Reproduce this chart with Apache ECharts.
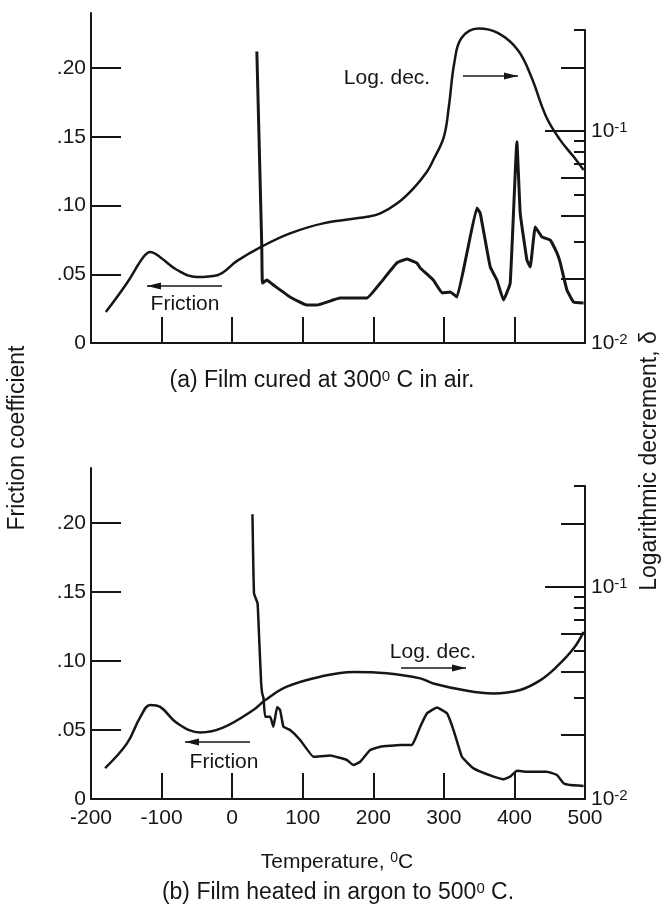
<!DOCTYPE html>
<html>
<head>
<meta charset="utf-8">
<script src="https://cdn.jsdelivr.net/npm/echarts@6/dist/echarts.min.js"></script>
<style>
  html, body { margin: 0; padding: 0; background: #fff; }
  #chart { width: 662px; height: 905px; }
</style>
</head>
<body>
<div id="chart"></div>
<script>
(function () {

	// tick values
	var tempTicks = [-200, -100, 0, 100, 200, 300, 400, 500];
	var frictionTicks = [0, 0.05, 0.10, 0.15, 0.20];
	var logMajorTicks = [0.01, 0.1];
	var logLongTicks = [0.02, 0.04, 0.06, 0.2];
	var logShortTicks = [0.03, 0.05, 0.07, 0.08, 0.09, 0.3];

	// (a) film cured at 300 C in air : [temperature, value]
	var logDecA = [
		[-179, 0.0140], [-149, 0.0192], [-126, 0.0254], [-116, 0.0269], [-102, 0.0254],
		[-78, 0.0221], [-50, 0.0205], [-21, 0.0209], [7, 0.0244], [41, 0.0284],
		[82, 0.0329], [129, 0.0367], [191, 0.0394], [210, 0.0409], [234, 0.0456],
		[257, 0.0537], [276, 0.0643], [285, 0.0730], [300, 0.0940], [307, 0.130],
		[315, 0.212], [325, 0.275], [349, 0.305], [377, 0.290], [405, 0.241],
		[424, 0.180], [445, 0.117], [465, 0.0907], [484, 0.0756], [498, 0.0655]
	];
	var frictionA = [
		[35, 0.212], [42, 0.070], [43, 0.0436], [49, 0.0458], [58.5, 0.0422],
		[82, 0.0335], [106, 0.0276], [120, 0.0276], [153, 0.0327], [191, 0.0327],
		[210, 0.0436], [233.5, 0.0582], [247.6, 0.0611], [261.8, 0.0582], [266.5, 0.0546],
		[285, 0.0458], [297.7, 0.0364], [309, 0.0371], [318.5, 0.0335], [332.7, 0.0655],
		[346.8, 0.0982], [351.5, 0.0945], [365.7, 0.0553], [375.2, 0.0458], [384.5, 0.0313],
		[394, 0.0436], [403.5, 0.1464], [408.2, 0.0945], [417.7, 0.0604], [422.4, 0.0553],
		[429.5, 0.0844], [439, 0.0771], [450.7, 0.0749], [460.2, 0.0655], [465, 0.0582],
		[474.4, 0.0385], [483.8, 0.0298], [498, 0.0291]
	];

	// (b) film heated in argon to 500 C
	var logDecB = [
		[-180, 0.0140], [-149, 0.0183], [-130, 0.0244], [-116, 0.0278], [-102, 0.0272],
		[-78, 0.0228], [-45, 0.0206], [-13, 0.0217], [30, 0.0263], [47, 0.0293],
		[77.5, 0.0339], [125, 0.0378], [172, 0.0398], [219, 0.0392], [266.5, 0.0371],
		[285, 0.0351], [333, 0.0324], [370, 0.0315], [408, 0.0327], [437, 0.0364],
		[460, 0.0421], [484, 0.0514], [498, 0.0615]
	];
	var frictionB = [
		[28.8, 0.2065], [31, 0.149], [36, 0.142], [38, 0.120], [41, 0.085],
		[42.5, 0.0768], [44.4, 0.0732], [46.8, 0.0596], [53.9, 0.0596], [58.5, 0.0524],
		[63.8, 0.0667], [68, 0.0645], [72.7, 0.0524], [82.2, 0.050], [96.4, 0.0428],
		[115.2, 0.0306], [138.9, 0.0315], [162.6, 0.0283], [171.9, 0.0246], [181.4, 0.027],
		[195.6, 0.0355], [209.8, 0.0379], [238.1, 0.0391], [254.7, 0.0391], [261.8, 0.0464],
		[266.5, 0.0524], [276, 0.0621], [290.2, 0.0664], [304.4, 0.0621], [313.7, 0.050],
		[325.6, 0.0306], [342, 0.0222], [370.4, 0.0162], [384.5, 0.0143], [394, 0.0162],
		[403.5, 0.0205], [417.7, 0.0198], [446, 0.0198], [460.2, 0.0174], [469.6, 0.0114],
		[479.1, 0.0101], [498, 0.0094]
	];

	var ink = '#161616';
	var font = "'Liberation Sans', Arial, sans-serif";
	var axisStroke = { color: ink, width: 2 };
	var supRich = {
		b: { fontSize: 21, fontFamily: font, color: ink },
		s: { fontSize: 15, fontFamily: font, color: ink, verticalAlign: 'top' }
	};

	function tempAxis(gridIndex, show, labels) {
		return {
			type: 'value', gridIndex: gridIndex, show: show,
			min: -200, max: 500, interval: 100,
			axisLine: { onZero: false, lineStyle: axisStroke },
			axisTick: { inside: true, length: 26, customValues: tempTicks, lineStyle: axisStroke },
			axisLabel: {
				show: labels, customValues: tempTicks, margin: 9,
				color: ink, fontSize: 21, fontFamily: font
			},
			splitLine: { show: false }
		};
	}

	function frictionAxis(gridIndex) {
		return {
			type: 'value', gridIndex: gridIndex, position: 'left',
			min: 0, max: 0.24,
			axisLine: { show: true, onZero: false, lineStyle: axisStroke },
			axisTick: { show: true, inside: true, length: 30, customValues: frictionTicks, lineStyle: axisStroke },
			axisLabel: {
				customValues: frictionTicks, margin: 5,
				color: ink, fontSize: 21, fontFamily: font,
				formatter: function (v) {
					if (v === 0) return '0';
					var s = String(Math.round(v * 100));
					return '.' + (s.length < 2 ? '0' + s : s);
				}
			},
			splitLine: { show: false }
		};
	}

	// log axis for the damping curve; extra copies only draw minor ticks
	function logAxis(gridIndex, values, len, main) {
		return {
			type: 'log', logBase: 10, gridIndex: gridIndex, position: 'right', offset: 0,
			min: 0.01, max: 0.3,
			axisLine: { show: main, onZero: false, lineStyle: axisStroke },
			axisTick: { show: true, inside: true, length: len, customValues: values, lineStyle: axisStroke },
			axisLabel: {
				show: main, customValues: values, margin: 6,
				formatter: function (v) {
					return '{b|10}{s|' + Math.round(Math.log(v) / Math.LN10) + '}';
				},
				rich: supRich
			},
			splitLine: { show: false }
		};
	}

	function curve(data, xi, yi, width, smooth) {
		return {
			type: 'line', data: data, xAxisIndex: xi, yAxisIndex: yi,
			symbol: 'none', clip: false, smooth: smooth,
			lineStyle: { color: ink, width: width }
		};
	}

	function label(text, x, y, size, rot) {
		return {
			type: 'text', x: x, y: y, rotation: rot || 0,
			style: {
				text: text, fill: ink, align: 'center', verticalAlign: 'middle',
				font: size + 'px ' + font,
				rich: {
					s: { fontSize: Math.round(size * 0.65), fontFamily: font, fill: ink, verticalAlign: 'top' }
				}
			}
		};
	}

	function arrow(x1, x2, y, headLeft) {
		var hx = headLeft ? x1 : x2;
		var d = headLeft ? 14 : -14;
		return [
			{ type: 'line', shape: { x1: x1, y1: y, x2: x2, y2: y }, style: { stroke: ink, lineWidth: 1.6 } },
			{ type: 'polygon', shape: { points: [[hx, y], [hx + d, y - 3.5], [hx + d, y + 3.5]] }, style: { fill: ink } }
		];
	}

	var chart = echarts.init(document.getElementById('chart'));

	chart.setOption({
		backgroundColor: '#fff',
		animation: false,
		grid: [
			{ left: 91, top: 13, width: 494, height: 330 },
			{ left: 91, top: 30, width: 494, height: 313 },
			{ left: 91, top: 468, width: 494, height: 331 },
			{ left: 91, top: 486, width: 494, height: 313 }
		],
		xAxis: [
			tempAxis(0, true, false),
			tempAxis(1, false, false),
			tempAxis(2, true, true),
			tempAxis(3, false, false)
		],
		yAxis: [
			frictionAxis(0),
			logAxis(1, logMajorTicks, 40, true),
			logAxis(1, logLongTicks, 24, false),
			logAxis(1, logShortTicks, 11, false),
			frictionAxis(2),
			logAxis(3, logMajorTicks, 40, true),
			logAxis(3, logLongTicks, 24, false),
			logAxis(3, logShortTicks, 11, false)
		],
		series: [
			curve(logDecA, 1, 1, 2.5, 0.4),
			curve(frictionA, 0, 0, 3, 0.1),
			curve(logDecB, 3, 5, 2.5, 0.4),
			curve(frictionB, 2, 4, 2.5, 0.1)
		],
		graphic: [
			label('Log. dec.', 387, 78, 21),
			label('Friction', 185, 304, 21),
			label('Log. dec.', 433, 652, 21),
			label('Friction', 224, 762, 21),
			label('(a) Film cured at 300{s|0} C in air.', 322, 381, 23),
			label('Temperature, {s|0}C', 337, 862, 21),
			label('(b) Film heated in argon to 500{s|0} C.', 338, 893, 23),
			label('Friction coefficient', 18, 438, 23, Math.PI / 2),
			label('Logarithmic decrement, \u03b4', 650, 461, 23, Math.PI / 2)
		].concat(
			arrow(463, 518, 76, false),
			arrow(147, 222, 286, true),
			arrow(401, 466, 668, false),
			arrow(185, 250, 742, true)
		)
	});
})();
</script>
</body>
</html>
